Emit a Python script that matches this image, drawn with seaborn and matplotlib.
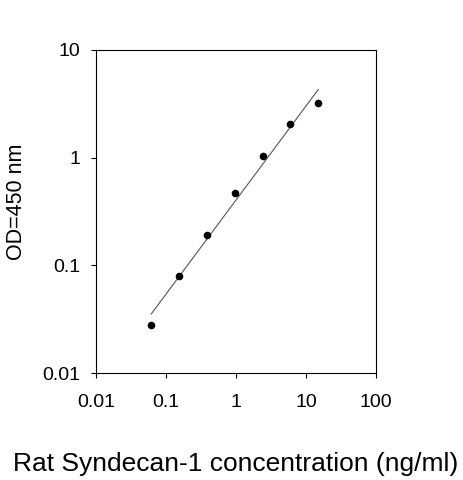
import numpy as np
import pandas as pd
import matplotlib
matplotlib.use("Agg")
import matplotlib.pyplot as plt
import seaborn as sns
from matplotlib.ticker import FixedLocator, FixedFormatter, NullLocator

# Data
concentration = [0.06144, 0.1536, 0.384, 0.96, 2.4, 6.0, 15.0]
od450 = [0.028, 0.080, 0.19, 0.47, 1.03, 2.07, 3.2]

x_ticks = [0.01, 0.1, 1, 10, 100]
x_tick_labels = ["0.01", "0.1", "1", "10", "100"]
y_ticks = [0.01, 0.1, 1, 10]
y_tick_labels = ["0.01", "0.1", "1", "10"]

x_label = "Rat Syndecan-1 concentration (ng/ml)"
y_label = "OD=450 nm"

df = pd.DataFrame({"conc": concentration, "od": od450})

# Log-log linear regression (standard curve)
slope, intercept = np.polyfit(np.log10(df["conc"]), np.log10(df["od"]), 1)
xs = np.logspace(np.log10(min(concentration)), np.log10(max(concentration)), 50)
fit_line = pd.DataFrame({"conc": xs, "od": 10 ** (intercept + slope * np.log10(xs))})

sns.set_theme(style="white")
plt.rcParams["font.family"] = ["Liberation Sans", "DejaVu Sans"]

W, H = 463, 480
L, R, T, B = 96, 376, 50, 373

fig = plt.figure(figsize=(W / 100, H / 100), dpi=100)
ax = fig.add_axes([L / W, 1 - B / H, (R - L) / W, (B - T) / H])

ax.set_xscale("log")
ax.set_yscale("log")

sns.lineplot(data=fit_line, x="conc", y="od", ax=ax, color="#555555", linewidth=0.8)
sns.scatterplot(data=df, x="conc", y="od", ax=ax, color="black", s=30,
                edgecolor="black", linewidth=0, zorder=3)

ax.set_xlim(0.01, 100)
ax.set_ylim(0.01, 10)

ax.xaxis.set_major_locator(FixedLocator(x_ticks))
ax.xaxis.set_major_formatter(FixedFormatter(x_tick_labels))
ax.yaxis.set_major_locator(FixedLocator(y_ticks))
ax.yaxis.set_major_formatter(FixedFormatter(y_tick_labels))
ax.xaxis.set_minor_locator(NullLocator())
ax.yaxis.set_minor_locator(NullLocator())

ax.tick_params(axis="both", which="major", direction="out", length=3.6, width=0.8,
               color="black", labelsize=14, labelcolor="black",
               bottom=True, left=True, top=False, right=False)
ax.tick_params(axis="x", pad=11.5)
ax.tick_params(axis="y", pad=8.0)

for sp in ax.spines.values():
    sp.set_visible(True)
    sp.set_color("black")
    sp.set_linewidth(0.8)

ax.set_xlabel(x_label, fontsize=19, color="black")
ax.set_ylabel(y_label, fontsize=15.5, color="black")
ax.xaxis.label.set_va("baseline")
ax.xaxis.set_label_coords(0.5, -(471 - B) / (B - T), transform=ax.transAxes)
ax.yaxis.label.set_va("center")
ax.yaxis.label.set_ha("center")
ax.yaxis.set_label_coords(-(L - 17) / (R - L), 1 - (201.5 - T) / (B - T), transform=ax.transAxes)

fig.savefig("out.png", dpi=100, facecolor="white")
